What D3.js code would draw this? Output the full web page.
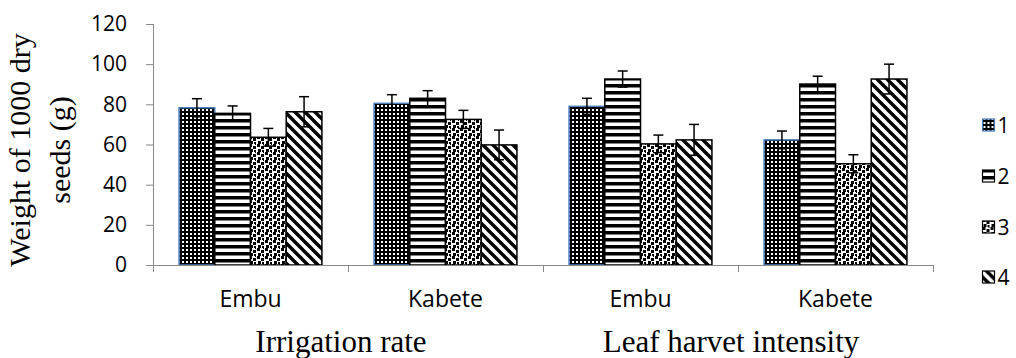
<!DOCTYPE html>
<html>
<head>
<meta charset="utf-8">
<script src="https://cdn.jsdelivr.net/npm/d3@7"></script>
<style>
  body { margin: 0; background: #fff; }
  svg { display: block; }
</style>
</head>
<body>
<div id="chart"></div>
<script>
// data
var sites = ["Embu", "Kabete", "Embu", "Kabete"];
var groups = ["Irrigation rate", "Leaf harvet intensity"];
var series = ["1", "2", "3", "4"];
var yTicks = [0, 20, 40, 60, 80, 100, 120];

var values = [
    [78.3, 75.5, 63.6, 76.3],
    [80.5, 83.0, 72.5, 59.8],
    [79.0, 92.6, 60.3, 62.3],
    [62.3, 90.1, 50.4, 92.6]
];
var errors = [
    [4.5, 3.7, 4.4, 7.5],
    [4.3, 3.8, 4.5, 7.4],
    [4.0, 4.0, 4.4, 7.7],
    [4.4, 3.9, 4.5, 7.4]
];

var width = 1016, height = 358;
var plot = {left: 153, right: 933, top: 24, bottom: 265};
var axisColor = "#898989";
var sans = "'Open Sans', sans-serif";
var serif = "'Liberation Serif', 'Times New Roman', serif";

var svg = d3.select("#chart").append("svg")
    .attr("width", width)
    .attr("height", height);

// fill patterns
var defs = svg.append("defs");

var p1 = defs.append("pattern").attr("id", "pat1")
    .attr("patternUnits", "userSpaceOnUse").attr("width", 4).attr("height", 4);
p1.append("rect").attr("width", 4).attr("height", 4).attr("fill", "#000");
p1.append("rect").attr("x", 1).attr("y", 1).attr("width", 2).attr("height", 2).attr("fill", "#fff");

var p2 = defs.append("pattern").attr("id", "pat2")
    .attr("patternUnits", "userSpaceOnUse").attr("width", 7).attr("height", 7);
p2.append("rect").attr("width", 7).attr("height", 7).attr("fill", "#fff");
p2.append("rect").attr("y", 0).attr("width", 7).attr("height", 3.5).attr("fill", "#000");

var p3 = defs.append("pattern").attr("id", "pat3")
    .attr("patternUnits", "userSpaceOnUse").attr("width", 8).attr("height", 8);
p3.append("rect").attr("width", 8).attr("height", 8).attr("fill", "#fff");
[[0, 0, 3], [4, 2, 3], [1, 5, 3], [5, 6, 2], [6, 0, 1]].forEach(function(s) {
    p3.append("rect").attr("x", s[0]).attr("y", s[1])
        .attr("width", s[2]).attr("height", s[2]).attr("fill", "#000");
});

var p4 = defs.append("pattern").attr("id", "pat4")
    .attr("patternUnits", "userSpaceOnUse").attr("width", 10).attr("height", 10);
p4.append("rect").attr("width", 10).attr("height", 10).attr("fill", "#fff");
p4.append("path")
    .attr("d", "M-2,-2 L12,12 M-7,3 L7,17 M3,-7 L17,7")
    .attr("stroke", "#000").attr("stroke-width", 3.4);

var fills = ["url(#pat1)", "url(#pat2)", "url(#pat3)", "url(#pat4)"];
var strokes = ["#4a7ebb", "#000", "#000", "#000"];

// scales
var x0 = d3.scaleBand()
    .domain(d3.range(sites.length))
    .range([plot.left, plot.right])
    .padding(0);

var x1 = d3.scaleBand()
    .domain(series)
    .range([0, x0.bandwidth()])
    .paddingInner(0)
    .paddingOuter(0.73);

var y = d3.scaleLinear()
    .domain([0, 120])
    .range([plot.bottom, plot.top]);

// y axis
var yAxis = d3.axisLeft(y).tickValues(yTicks).tickSize(7).tickPadding(19);
var gy = svg.append("g")
    .attr("transform", "translate(" + plot.left + ",0)")
    .call(yAxis);
gy.select(".domain").attr("stroke", axisColor).attr("d", "M0.5," + plot.top + "V" + (plot.bottom + 7));
gy.selectAll(".tick line").attr("stroke", axisColor);
gy.selectAll(".tick text")
    .attr("fill", "#000")
    .style("font-family", sans)
    .style("font-size", "21px");

// bars
var groupG = svg.selectAll(".grp")
    .data(values)
    .enter().append("g")
    .attr("class", "grp")
    .attr("transform", function(d, i) { return "translate(" + x0(i) + ",0)"; });

groupG.selectAll("rect")
    .data(function(d) { return d; })
    .enter().append("rect")
    .attr("x", function(d, i) { return x1(series[i]); })
    .attr("y", function(d) { return y(d); })
    .attr("width", x1.bandwidth())
    .attr("height", function(d) { return y(0) - y(d); })
    .attr("fill", function(d, i) { return fills[i]; })
    .attr("stroke", function(d, i) { return strokes[i]; })
    .attr("stroke-width", 1.5);

// error bars
groupG.each(function(vals, gi) {
    var g = d3.select(this);
    vals.forEach(function(v, i) {
        var cx = x1(series[i]) + x1.bandwidth() / 2;
        var e = errors[gi][i];
        var eg = g.append("g").attr("stroke", "#000").attr("stroke-width", 1.5);
        eg.append("line").attr("x1", cx).attr("x2", cx)
            .attr("y1", y(v + e)).attr("y2", y(v - e));
        eg.append("line").attr("x1", cx - 5).attr("x2", cx + 5)
            .attr("y1", y(v + e)).attr("y2", y(v + e));
        eg.append("line").attr("x1", cx - 5).attr("x2", cx + 5)
            .attr("y1", y(v - e)).attr("y2", y(v - e));
    });
});

// x axis
var xAxis = d3.axisBottom(x0).tickSize(0).tickFormat(function(i) { return sites[i]; });
var gx = svg.append("g")
    .attr("transform", "translate(0," + plot.bottom + ")")
    .call(xAxis);
gx.select(".domain").attr("stroke", axisColor).attr("d", "M" + plot.left + ",0.5H" + plot.right);
gx.selectAll(".tick text")
    .attr("y", 42).attr("dy", 0)
    .attr("fill", "#000")
    .style("font-family", sans)
    .style("font-size", "23px");
// category boundary ticks
gx.selectAll(".sep")
    .data(d3.range(sites.length + 1))
    .enter().append("line")
    .attr("class", "sep")
    .attr("x1", function(i) { return plot.left + i * x0.step() + 0.5; })
    .attr("x2", function(i) { return plot.left + i * x0.step() + 0.5; })
    .attr("y1", 0).attr("y2", 7)
    .attr("stroke", axisColor);

// group titles
var groupCenters = [341, 731];
svg.selectAll(".gtitle")
    .data(groups)
    .enter().append("text")
    .attr("class", "gtitle")
    .attr("x", function(d, i) { return groupCenters[i]; })
    .attr("y", 352)
    .attr("text-anchor", "middle")
    .style("font-family", serif)
    .style("font-size", "31px")
    .text(function(d) { return d; });

// y axis title
var yTitle = svg.append("text")
    .attr("transform", "translate(0,150) rotate(-90)")
    .attr("text-anchor", "middle")
    .style("font-family", serif)
    .style("font-size", "30px");
yTitle.append("tspan").attr("x", 0).attr("y", 30).text("Weight of 1000 dry");
yTitle.append("tspan").attr("x", 0).attr("y", 70).text("seeds (g)");

// legend
var legendY = [125, 176, 227, 277];
var lg = svg.selectAll(".leg")
    .data(series)
    .enter().append("g")
    .attr("class", "leg")
    .attr("transform", function(d, i) { return "translate(982.5," + legendY[i] + ")"; });
lg.append("rect")
    .attr("x", 0).attr("y", -6)
    .attr("width", 12).attr("height", 12)
    .attr("fill", function(d, i) { return fills[i]; })
    .attr("stroke", function(d, i) { return strokes[i]; })
    .attr("stroke-width", 1.2);
lg.append("text")
    .attr("x", 15).attr("y", 0)
    .attr("dy", "0.36em")
    .style("font-family", sans)
    .style("font-size", "21px")
    .text(function(d) { return d; });
</script>
</body>
</html>
